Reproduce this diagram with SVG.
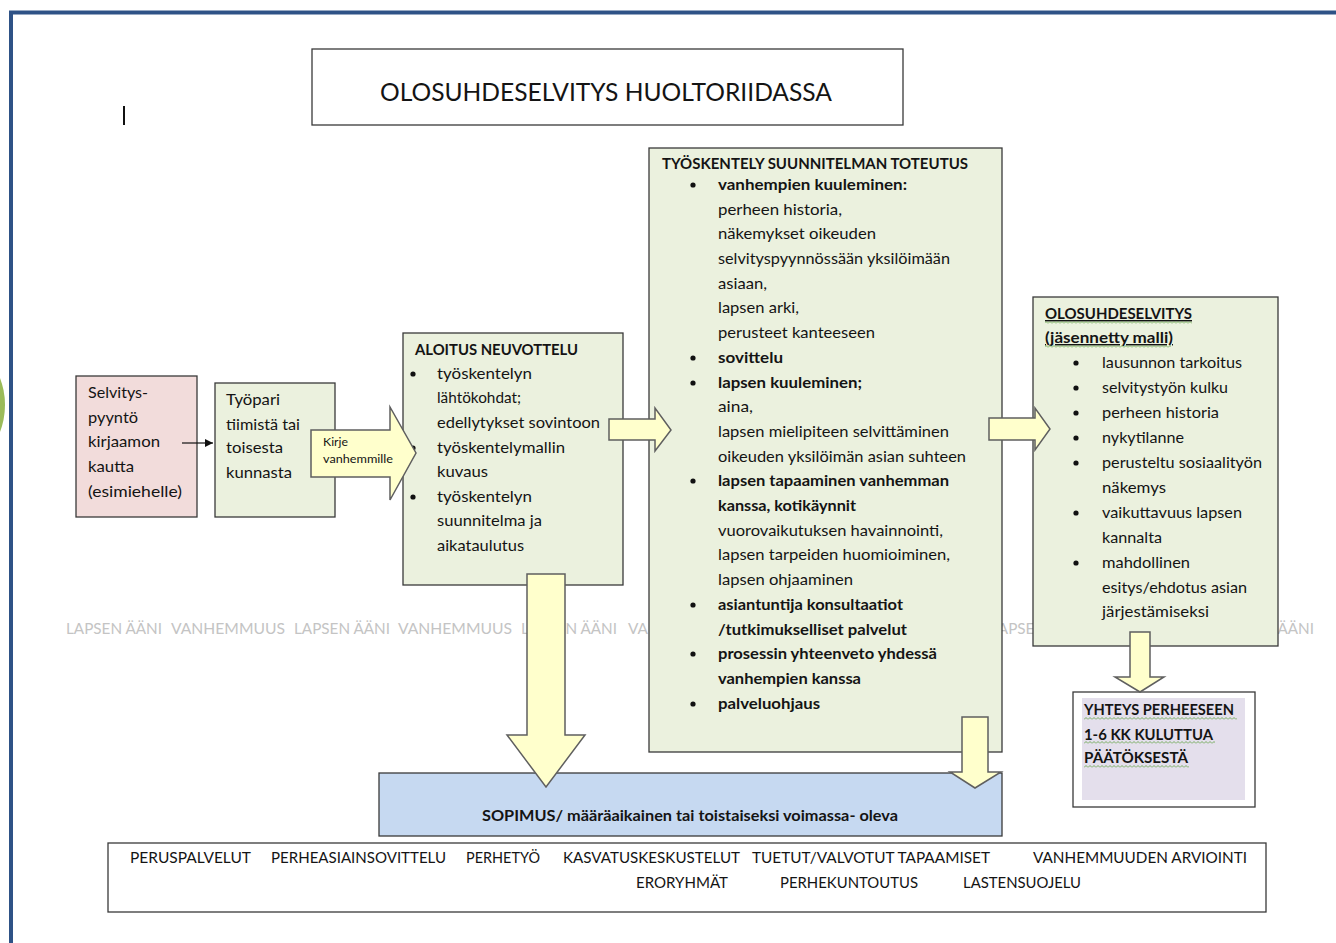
<svg xmlns="http://www.w3.org/2000/svg" width="1336" height="943" viewBox="0 0 1336 943">
<defs>
<style>
text{font-family:Lato,"Liberation Sans",sans-serif;fill:#141414}
.t{font-size:16px}
.b{font-weight:bold}
.box{stroke:#3a3a3a;stroke-width:1.3}
.g{fill:#EBF1DE}
.arr{fill:#FFFFCC;stroke:#5f5f5f;stroke-width:1.5}
.wm{font-size:15px;fill:#C4C4C4}
.bt{font-size:15.5px}
.bul{fill:#111}
.wave{fill:url(#wave)}
</style>
<pattern id="wave" width="4" height="3" patternUnits="userSpaceOnUse"><path d="M0,2.5 L2,0.5 L4,2.5" fill="none" stroke="#6AA84F" stroke-width="0.9"/></pattern>
<marker id="ah" viewBox="0 0 8 8" refX="8" refY="4" markerWidth="8" markerHeight="8" markerUnits="userSpaceOnUse" orient="auto"><path d="M0,0 L8,4 L0,8 z" fill="#111"/></marker>
</defs>
<rect x="0" y="0" width="1336" height="943" fill="#ffffff"/>
<circle cx="-70" cy="405" r="75" fill="#9BBB59"/>
<path d="M11,943 V12.5 H1336" fill="none" stroke="#2E5286" stroke-width="4"/>
<rect x="123" y="106" width="2" height="19" fill="#111"/>

<g id="watermark">
<text class="wm" x="66" y="634" textLength="96" lengthAdjust="spacingAndGlyphs">LAPSEN ÄÄNI</text>
<text class="wm" x="171" y="634" textLength="114" lengthAdjust="spacingAndGlyphs">VANHEMMUUS</text>
<text class="wm" x="294" y="634" textLength="96" lengthAdjust="spacingAndGlyphs">LAPSEN ÄÄNI</text>
<text class="wm" x="398" y="634" textLength="114" lengthAdjust="spacingAndGlyphs">VANHEMMUUS</text>
<text class="wm" x="521" y="634" textLength="96" lengthAdjust="spacingAndGlyphs">LAPSEN ÄÄNI</text>
<text class="wm" x="628" y="634" textLength="20" lengthAdjust="spacingAndGlyphs">VA</text>
<text class="wm" x="990" y="634" textLength="96" lengthAdjust="spacingAndGlyphs">LAPSEN ÄÄNI</text>
<text class="wm" x="1218" y="634" textLength="96" lengthAdjust="spacingAndGlyphs">LAPSEN ÄÄNI</text>
</g>

<g id="title">
<rect class="box" x="312" y="49" width="591" height="76" fill="#ffffff"/>
<text x="380" y="101" font-size="25" textLength="452" lengthAdjust="spacingAndGlyphs">OLOSUHDESELVITYS HUOLTORIIDASSA</text>
</g>

<g id="selvityspyynto">
<rect class="box" x="76" y="376" width="121" height="141" fill="#F2DCDB"/>
<text class="t" x="88" y="398" textLength="60" lengthAdjust="spacingAndGlyphs">Selvitys-</text>
<text class="t" x="88" y="423" textLength="50" lengthAdjust="spacingAndGlyphs">pyyntö</text>
<text class="t" x="88" y="447" textLength="72" lengthAdjust="spacingAndGlyphs">kirjaamon</text>
<text class="t" x="88" y="472" textLength="46" lengthAdjust="spacingAndGlyphs">kautta</text>
<text class="t" x="88" y="497" textLength="94" lengthAdjust="spacingAndGlyphs">(esimiehelle)</text>
</g>

<g id="tyopari">
<rect class="box g" x="215" y="383" width="120" height="134"/>
<text class="t" x="226" y="405" textLength="54" lengthAdjust="spacingAndGlyphs">Työpari</text>
<text class="t" x="226" y="430" textLength="74" lengthAdjust="spacingAndGlyphs">tiimistä tai</text>
<text class="t" x="226" y="453" textLength="57" lengthAdjust="spacingAndGlyphs">toisesta</text>
<text class="t" x="226" y="478" textLength="66" lengthAdjust="spacingAndGlyphs">kunnasta</text>
</g>

<g id="aloitus">
<rect class="box g" x="403" y="333" width="220" height="252"/>
<text class="b" x="415" y="355" font-size="14.5" textLength="163" lengthAdjust="spacingAndGlyphs">ALOITUS NEUVOTTELU</text>
<circle class="bul" cx="413" cy="374" r="2.6"/>
<circle class="bul" cx="413" cy="448" r="2.6"/>
<circle class="bul" cx="413" cy="497" r="2.6"/>
<text class="t" x="437" y="379" textLength="95" lengthAdjust="spacingAndGlyphs">työskentelyn</text>
<text class="t" x="437" y="403" textLength="84" lengthAdjust="spacingAndGlyphs">lähtökohdat;</text>
<text class="t" x="437" y="428" textLength="163" lengthAdjust="spacingAndGlyphs">edellytykset sovintoon</text>
<text class="t" x="437" y="453" textLength="128" lengthAdjust="spacingAndGlyphs">työskentelymallin</text>
<text class="t" x="437" y="477" textLength="51" lengthAdjust="spacingAndGlyphs">kuvaus</text>
<text class="t" x="437" y="502" textLength="95" lengthAdjust="spacingAndGlyphs">työskentelyn</text>
<text class="t" x="437" y="526" textLength="105" lengthAdjust="spacingAndGlyphs">suunnitelma ja</text>
<text class="t" x="437" y="551" textLength="87" lengthAdjust="spacingAndGlyphs">aikataulutus</text>
</g>

<g id="toteutus">
<rect class="box g" x="649" y="148" width="353" height="604"/>
<text class="b" x="662" y="169" font-size="14.5" textLength="306" lengthAdjust="spacingAndGlyphs">TYÖSKENTELY SUUNNITELMAN TOTEUTUS</text>
<circle class="bul" cx="693" cy="185" r="2.6"/>
<circle class="bul" cx="693" cy="358" r="2.6"/>
<circle class="bul" cx="693" cy="383" r="2.6"/>
<circle class="bul" cx="693" cy="481" r="2.6"/>
<circle class="bul" cx="693" cy="605" r="2.6"/>
<circle class="bul" cx="693" cy="654" r="2.6"/>
<circle class="bul" cx="693" cy="704" r="2.6"/>
<text class="t b" x="718" y="190" textLength="189" lengthAdjust="spacingAndGlyphs">vanhempien kuuleminen:</text>
<text class="t" x="718" y="215" textLength="124" lengthAdjust="spacingAndGlyphs">perheen historia,</text>
<text class="t" x="718" y="239" textLength="158" lengthAdjust="spacingAndGlyphs">näkemykset oikeuden</text>
<text class="t" x="718" y="264" textLength="232" lengthAdjust="spacingAndGlyphs">selvityspyynnössään yksilöimään</text>
<text class="t" x="718" y="289" textLength="49" lengthAdjust="spacingAndGlyphs">asiaan,</text>
<text class="t" x="718" y="313" textLength="81" lengthAdjust="spacingAndGlyphs">lapsen arki,</text>
<text class="t" x="718" y="338" textLength="157" lengthAdjust="spacingAndGlyphs">perusteet kanteeseen</text>
<text class="t b" x="718" y="363" textLength="65" lengthAdjust="spacingAndGlyphs">sovittelu</text>
<text class="t b" x="718" y="388" textLength="144" lengthAdjust="spacingAndGlyphs">lapsen kuuleminen;</text>
<text class="t" x="718" y="412" textLength="35" lengthAdjust="spacingAndGlyphs">aina,</text>
<text class="t" x="718" y="437" textLength="231" lengthAdjust="spacingAndGlyphs">lapsen mielipiteen selvittäminen</text>
<text class="t" x="718" y="462" textLength="248" lengthAdjust="spacingAndGlyphs">oikeuden yksilöimän asian suhteen</text>
<text class="t b" x="718" y="486" textLength="231" lengthAdjust="spacingAndGlyphs">lapsen tapaaminen vanhemman</text>
<text class="t b" x="718" y="511" textLength="138" lengthAdjust="spacingAndGlyphs">kanssa, kotikäynnit</text>
<text class="t" x="718" y="536" textLength="225" lengthAdjust="spacingAndGlyphs">vuorovaikutuksen havainnointi,</text>
<text class="t" x="718" y="560" textLength="232" lengthAdjust="spacingAndGlyphs">lapsen tarpeiden huomioiminen,</text>
<text class="t" x="718" y="585" textLength="135" lengthAdjust="spacingAndGlyphs">lapsen ohjaaminen</text>
<text class="t b" x="718" y="610" textLength="185" lengthAdjust="spacingAndGlyphs">asiantuntija konsultaatiot</text>
<text class="t b" x="718" y="635" textLength="189" lengthAdjust="spacingAndGlyphs">/tutkimukselliset palvelut</text>
<text class="t b" x="718" y="659" textLength="219" lengthAdjust="spacingAndGlyphs">prosessin yhteenveto yhdessä</text>
<text class="t b" x="718" y="684" textLength="143" lengthAdjust="spacingAndGlyphs">vanhempien kanssa</text>
<text class="t b" x="718" y="709" textLength="102" lengthAdjust="spacingAndGlyphs">palveluohjaus</text>
</g>

<g id="olosuhdeselvitys">
<rect class="box g" x="1033" y="297" width="245" height="349"/>
<text class="b" x="1045" y="319" font-size="14.5" text-decoration="underline" textLength="147" lengthAdjust="spacingAndGlyphs">OLOSUHDESELVITYS</text>
<rect class="wave" x="1045" y="321" width="147" height="3"/>
<text class="b" x="1045" y="343" font-size="14.5" text-decoration="underline" textLength="128" lengthAdjust="spacingAndGlyphs">(jäsennetty malli)</text>
<rect class="wave" x="1045" y="345" width="126" height="3"/>
<circle class="bul" cx="1076" cy="363" r="2.6"/>
<circle class="bul" cx="1076" cy="388" r="2.6"/>
<circle class="bul" cx="1076" cy="413" r="2.6"/>
<circle class="bul" cx="1076" cy="438" r="2.6"/>
<circle class="bul" cx="1076" cy="463" r="2.6"/>
<circle class="bul" cx="1076" cy="513" r="2.6"/>
<circle class="bul" cx="1076" cy="563" r="2.6"/>
<text class="t" x="1102" y="368" textLength="140" lengthAdjust="spacingAndGlyphs">lausunnon tarkoitus</text>
<text class="t" x="1102" y="393" textLength="126" lengthAdjust="spacingAndGlyphs">selvitystyön kulku</text>
<text class="t" x="1102" y="418" textLength="117" lengthAdjust="spacingAndGlyphs">perheen historia</text>
<text class="t" x="1102" y="443" textLength="82" lengthAdjust="spacingAndGlyphs">nykytilanne</text>
<text class="t" x="1102" y="468" textLength="160" lengthAdjust="spacingAndGlyphs">perusteltu sosiaalityön</text>
<text class="t" x="1102" y="493" textLength="64" lengthAdjust="spacingAndGlyphs">näkemys</text>
<text class="t" x="1102" y="518" textLength="140" lengthAdjust="spacingAndGlyphs">vaikuttavuus lapsen</text>
<text class="t" x="1102" y="543" textLength="60" lengthAdjust="spacingAndGlyphs">kannalta</text>
<text class="t" x="1102" y="568" textLength="88" lengthAdjust="spacingAndGlyphs">mahdollinen</text>
<text class="t" x="1102" y="593" textLength="145" lengthAdjust="spacingAndGlyphs">esitys/ehdotus asian</text>
<text class="t" x="1102" y="617" textLength="107" lengthAdjust="spacingAndGlyphs">järjestämiseksi</text>
</g>

<g id="yhteys">
<rect class="box" x="1073" y="692" width="182" height="115" fill="#ffffff"/>
<rect x="1082" y="698" width="163" height="102" fill="#E4DFEC"/>
<text class="b" x="1084" y="715" font-size="15.5" textLength="150" lengthAdjust="spacingAndGlyphs">YHTEYS PERHEESEEN</text>
<rect class="wave" x="1084" y="717" width="153" height="3"/>
<text class="b" x="1084" y="740" font-size="15.5" textLength="129" lengthAdjust="spacingAndGlyphs">1-6 KK KULUTTUA</text>
<rect class="wave" x="1084" y="741" width="131" height="3"/>
<text class="b" x="1084" y="763" font-size="15.5" textLength="104" lengthAdjust="spacingAndGlyphs">PÄÄTÖKSESTÄ</text>
<rect class="wave" x="1084" y="765" width="105" height="3"/>
</g>

<g id="sopimus">
<rect class="box" x="379" y="773" width="623" height="63" fill="#C6D9F1"/>
<text class="b" x="482" y="821" font-size="15" textLength="416" lengthAdjust="spacingAndGlyphs">SOPIMUS/ määräaikainen tai toistaiseksi voimassa- oleva</text>
</g>

<g id="palvelut">
<rect class="box" x="108" y="843" width="1158" height="69" fill="#ffffff"/>
<text class="bt" x="130" y="863" textLength="121" lengthAdjust="spacingAndGlyphs">PERUSPALVELUT</text>
<text class="bt" x="271" y="863" textLength="175" lengthAdjust="spacingAndGlyphs">PERHEASIAINSOVITTELU</text>
<text class="bt" x="466" y="863" textLength="74" lengthAdjust="spacingAndGlyphs">PERHETYÖ</text>
<text class="bt" x="563" y="863" textLength="177" lengthAdjust="spacingAndGlyphs">KASVATUSKESKUSTELUT</text>
<text class="bt" x="752" y="863" textLength="238" lengthAdjust="spacingAndGlyphs">TUETUT/VALVOTUT TAPAAMISET</text>
<text class="bt" x="1033" y="863" textLength="214" lengthAdjust="spacingAndGlyphs">VANHEMMUUDEN ARVIOINTI</text>
<text class="bt" x="636" y="888" textLength="92" lengthAdjust="spacingAndGlyphs">ERORYHMÄT</text>
<text class="bt" x="780" y="888" textLength="138" lengthAdjust="spacingAndGlyphs">PERHEKUNTOUTUS</text>
<text class="bt" x="963" y="888" textLength="118" lengthAdjust="spacingAndGlyphs">LASTENSUOJELU</text>
</g>

<g id="connectors">
<line x1="182" y1="443" x2="213" y2="443" stroke="#111" stroke-width="1.2" marker-end="url(#ah)"/>
<g id="kirje-arrow">
<polygon class="arr" points="311,430 390,430 390,407 416,453 390,500 390,477 311,477"/>
<text x="323" y="446" font-size="11.5" textLength="25" lengthAdjust="spacingAndGlyphs">Kirje</text>
<text x="323" y="463" font-size="11.5" textLength="70" lengthAdjust="spacingAndGlyphs">vanhemmille</text>
</g>
<polygon class="arr" points="609,419 655,419 655,408 671,430 655,451 655,440 609,440"/>
<polygon class="arr" points="989,418 1035,418 1035,408 1050,429 1035,450 1035,440 989,440"/>
<polygon class="arr" points="527,574 565,574 565,735 585,735 546,787 507,735 527,735"/>
<polygon class="arr" points="962,717 988,717 988,772 1001,772 975,788 950,772 962,772"/>
<polygon class="arr" points="1130,632 1150,632 1150,677 1164,677 1140,692 1115,677 1130,677"/>
</g>
</svg>
